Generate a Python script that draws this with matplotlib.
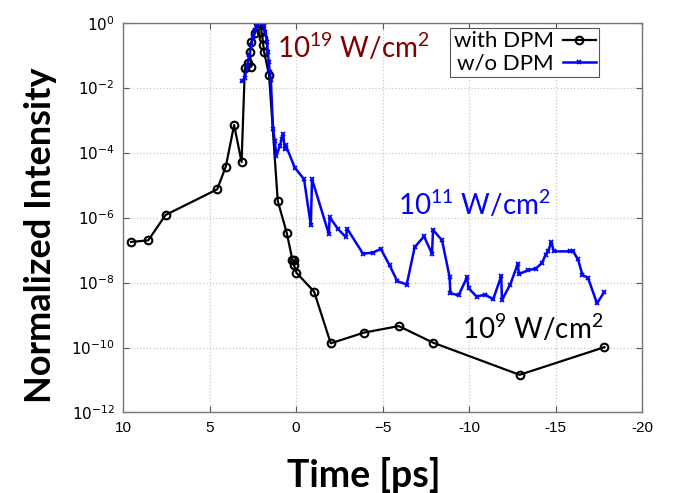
import numpy as np
import matplotlib
matplotlib.use("Agg")
import matplotlib.pyplot as plt
from matplotlib.ticker import FixedLocator, FixedFormatter

# with DPM (time in ps, log10 of normalized intensity)
t_dpm = [9.54, 8.54, 7.54, 4.56, 4.06, 3.58, 3.15, 2.96, 2.77, 2.6, 2.67, 2.58,
         2.38, 2.19, 2.05, 2.0, 1.94, 1.9, 1.85, 1.56, 1.06, 0.54, 0.21, 0.1,
         0.12, -0.02, -1.04, -2.0, -3.93, -5.93, -7.91, -12.91, -17.81]
log_dpm = [-6.75, -6.70, -5.92, -5.13, -4.43, -3.15, -4.29, -1.40, -1.24, -1.35,
           -0.89, -0.58, -0.32, -0.02, 0.0, -0.28, -0.48, -0.68, -0.89, -1.62,
           -5.49, -6.47, -7.31, -7.31, -7.47, -7.70, -8.28, -9.87, -9.54, -9.34,
           -9.85, -10.84, -9.99]

# without DPM
t_nodpm = [3.15, 2.96, 2.82, 2.7, 2.58, 2.5, 2.38, 2.27, 2.15, 1.98, 1.86, 1.78,
           1.69, 1.63, 1.58, 1.52, 1.46, 1.33, 1.23, 1.14, 0.94, 0.84, 0.75,
           0.65, 0.6, 0.08, -0.46, -0.85, -0.92, -1.89, -1.94, -2.42, -2.87,
           -2.96, -3.86, -4.45, -4.89, -5.4, -5.85, -6.39, -6.85, -7.39, -7.85,
           -7.91, -8.43, -8.87, -8.91, -9.39, -9.87, -9.97, -10.43, -10.93,
           -11.38, -11.85, -11.89, -12.37, -12.81, -12.87, -13.39, -13.84,
           -14.2, -14.42, -14.55, -14.75, -14.88, -15.81, -16.0, -16.29, -16.54,
           -16.86, -17.38, -17.79]
log_nodpm = [-1.81, -1.69, -1.29, -0.99, -0.68, -0.44, -0.22, -0.07, 0.0, 0.0,
             -0.1, -0.28, -0.59, -0.9, -1.2, -1.51, -1.75, -3.28, -3.64, -4.1,
             -3.8, -3.59, -3.44, -3.9, -3.77, -4.46, -4.82, -6.24, -4.82, -6.5,
             -5.99, -6.35, -6.6, -6.35, -7.11, -7.08, -6.96, -7.47, -7.96, -8.06,
             -6.91, -6.58, -7.11, -6.38, -6.7, -7.84, -8.33, -8.39, -7.84, -8.18,
             -8.43, -8.37, -8.52, -7.8, -8.54, -8.06, -7.42, -7.74, -7.62, -7.57,
             -7.4, -7.14, -7.04, -6.75, -7.04, -7.04, -7.04, -7.29, -7.77, -7.85,
             -8.64, -8.3]

x_ticks = [10, 5, 0, -5, -10, -15, -20]
x_labels = ['10', '5', '0', '\u22125', '-10', '-15', '-20']
y_exps = [0, -2, -4, -6, -8, -10, -12]

fig = plt.figure(figsize=(6.75, 4.93), dpi=100)
ax = fig.add_axes([0.1822, 0.1633, 0.7694, 0.7907])

ax.plot(t_dpm, 10.0 ** np.array(log_dpm), color='black', lw=1.6, marker='o',
        ms=5.5, mfc='none', mew=1.5, label='with DPM')
ax.plot(t_nodpm, 10.0 ** np.array(log_nodpm), color='blue', lw=1.8, marker='x',
        ms=3.5, mew=1.3, label='w/o DPM')

ax.set_yscale('log')
ax.set_xlim(10, -20)
ax.set_ylim(1e-12, 1)

ax.xaxis.set_major_locator(FixedLocator(x_ticks))
ax.xaxis.set_major_formatter(FixedFormatter(x_labels))
ax.yaxis.set_major_locator(FixedLocator([10.0 ** e for e in y_exps]))
ax.yaxis.set_major_formatter(FixedFormatter(['$10^{%d}$' % e for e in y_exps]))
ax.yaxis.set_minor_locator(FixedLocator([]))

ax.grid(True, which='major', color='#c8c8c8', linestyle=':', lw=0.9)
ax.tick_params(direction='in', top=True, right=True, length=4, width=0.8,
               colors='#555555', labelcolor='black', labelsize=11, pad=6)
for lab in ax.get_xticklabels() + ax.get_yticklabels():
    lab.set_family('Liberation Sans')
for s in ax.spines.values():
    s.set_color('#777777')
    s.set_linewidth(1.0)

ax.set_xlabel('Time [ps]', fontsize=27, fontweight='bold', family='Lato')
ax.set_ylabel('Normalized Intensity', fontsize=26, fontweight='bold', family='Lato')
ax.xaxis.set_label_coords(0.464, -0.113)
ax.yaxis.set_label_coords(-0.127, 0.455)

leg = ax.legend(loc='upper right', bbox_to_anchor=(0.917, 0.986), markerfirst=False,
                fancybox=False, edgecolor='#555555', framealpha=1,
                prop={'family': 'Lato', 'size': 16}, handlelength=1.5,
                borderpad=0.15, labelspacing=0.1, handletextpad=0.4, borderaxespad=0)
leg.get_frame().set_linewidth(0.8)

ann = dict(fontsize=20, family='Lato', va='center', ha='left')
ax.text(1.11, 10 ** -0.77, '$\\mathregular{10^{19}}$ W/cm$\\mathregular{^2}$', color='#800000', **ann)
ax.text(-5.87, 10 ** -5.59, '$\\mathregular{10^{11}}$ W/cm$\\mathregular{^2}$', color='blue', **ann)
ax.text(-9.56, 10 ** -9.4, '$\\mathregular{10^{9}}$ W/cm$\\mathregular{^2}$', color='black', **ann)

fig.savefig('out.png', dpi=100)
